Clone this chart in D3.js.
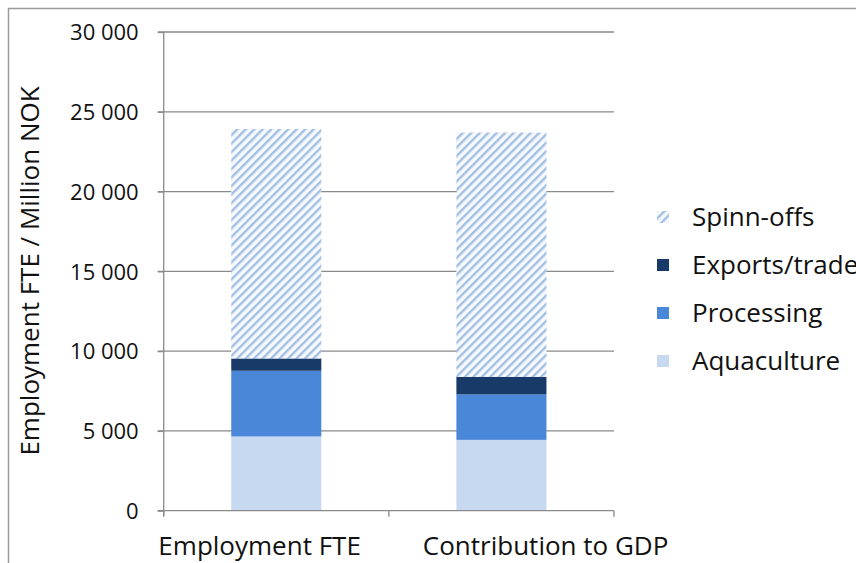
<!DOCTYPE html>
<html><head><meta charset="utf-8">
<script src="https://cdn.jsdelivr.net/npm/d3@7"></script>
<style>body{margin:0;background:#fff}svg{display:block}text{font-family:"Open Sans",sans-serif;fill:#111}</style>
</head><body><svg id="c" width="856" height="563"></svg>
<script>
const categories = ["Employment FTE", "Contribution to GDP"];
const seriesNames = ["Aquaculture", "Processing", "Exports/trade", "Spinn-offs"];
const aquaculture = [4650, 4440];
const processing = [4120, 2850];
const exportsTrade = [770, 1100];
const spinnOffs = [14380, 15310];
const yTicks = [0, 5000, 10000, 15000, 20000, 25000, 30000];
const yLabel = "Employment FTE / Million NOK";

const svg = d3.select("#c");
const defs = svg.append("defs");
const pat = defs.append("pattern").attr("id","hatch").attr("patternUnits","userSpaceOnUse")
  .attr("width",6).attr("height",6).attr("patternTransform","rotate(45)");
pat.append("rect").attr("width",6).attr("height",6).attr("fill","#f6f9fd");
pat.append("rect").attr("x",0).attr("width",2.4).attr("height",6).attr("fill","#a3bfe2");

// frame
svg.append("path").attr("d","M8.5,563 V8.5 H856").attr("fill","none").attr("stroke","#9a9a9a").attr("stroke-width",1.5);

const m = {l:163.7, r:614, t:32, b:510.7};
const x = d3.scaleBand().domain(categories).range([m.l, m.r]).paddingInner(0).paddingOuter(0);
const y = d3.scaleLinear().domain([0,30000]).range([m.b, m.t]);

// gridlines
svg.append("g").selectAll("line").data(yTicks.filter(d=>d>0)).join("line")
  .attr("x1",m.l-6).attr("x2",m.r).attr("y1",d=>y(d)).attr("y2",d=>y(d))
  .attr("stroke","#8a8a8a").attr("stroke-width",1.3);

// y axis
const ya = svg.append("g").attr("transform",`translate(${m.l},0)`)
  .call(d3.axisLeft(y).tickValues(yTicks).tickSize(6).tickPadding(19).tickFormat(d=>d3.format(",")(d).replace(/,/g," ")));
ya.select(".domain").attr("stroke","#8a8a8a").attr("stroke-width",1.3).attr("d",`M0,${m.b+5}V${m.t}`);
ya.selectAll(".tick line").attr("stroke","#8a8a8a").attr("stroke-width",1.3);
ya.selectAll("text").attr("font-size",22).attr("font-family","Open Sans").attr("fill","#111").attr("dy","0.35em");

// stacked bars
const rows = categories.map((c,i)=>({cat:c, Aquaculture:aquaculture[i], Processing:processing[i], "Exports/trade":exportsTrade[i], "Spinn-offs":spinnOffs[i]}));
const stack = d3.stack().keys(seriesNames)(rows);
const colors = {"Aquaculture":"#c6d9f1","Processing":"#4a87d9","Exports/trade":"#183a68","Spinn-offs":"url(#hatch)"};
const bw = x.bandwidth()*0.4;
svg.append("g").selectAll("g").data(stack).join("g").attr("fill",d=>colors[d.key])
  .selectAll("rect").data(d=>d).join("rect")
  .attr("x",d=>x(d.data.cat)+x.bandwidth()/2-bw/2).attr("width",bw)
  .attr("y",d=>y(d[1])).attr("height",d=>y(d[0])-y(d[1]));

// x axis
const xa = svg.append("g").attr("transform",`translate(0,${m.b})`);
xa.append("line").attr("x1",m.l-6).attr("x2",m.r).attr("y1",0).attr("y2",0).attr("stroke","#8a8a8a").attr("stroke-width",1.3);
[m.l, m.l+x.bandwidth(), m.r].forEach(v=>xa.append("line").attr("x1",v).attr("x2",v).attr("y1",0).attr("y2",6).attr("stroke","#8a8a8a").attr("stroke-width",1.3));
const mid = m.l + x.bandwidth();
xa.selectAll("text.cat").data(categories).join("text").attr("class","cat")
  .attr("x",(d,i)=> i===0 ? mid-28 : mid+34)
  .attr("text-anchor",(d,i)=> i===0 ? "end" : "start")
  .attr("y",44.5).attr("font-size",26).text(d=>d);

// y label
svg.append("text").attr("transform",`translate(39,271) rotate(-90)`).attr("text-anchor","middle")
  .attr("font-size",26).text(yLabel);

// legend
const legOrder = ["Spinn-offs","Exports/trade","Processing","Aquaculture"];
const lg = svg.append("g").selectAll("g").data(legOrder).join("g").attr("transform",(d,i)=>`translate(657,${217+i*48})`);
lg.append("rect").attr("x",0).attr("y",-6).attr("width",12).attr("height",12).attr("fill",d=>colors[d]);
lg.append("text").attr("x",35).attr("y",0).attr("dy","0.35em").attr("font-size",26).text(d=>d);
</script></body></html>
